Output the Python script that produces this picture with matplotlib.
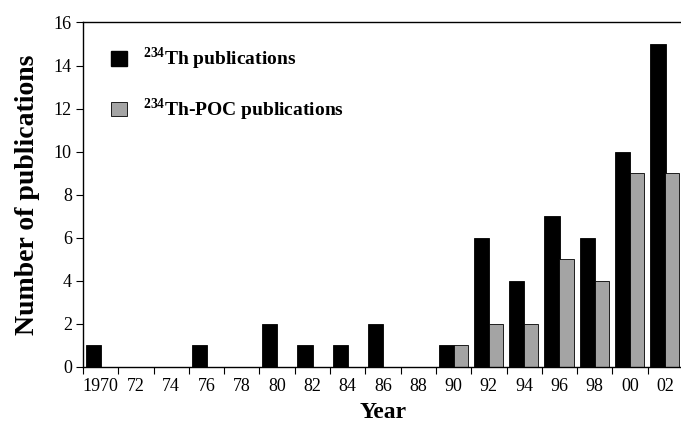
import matplotlib
matplotlib.use("Agg")
import matplotlib.pyplot as plt
from matplotlib.patches import Patch
import numpy as np

years = ["1970", "72", "74", "76", "78", "80", "82", "84", "86", "88", "90", "92", "94", "96", "98", "00", "02"]
th_pubs = [1, 0, 0, 1, 0, 2, 1, 1, 2, 0, 1, 6, 4, 7, 6, 10, 15]
th_poc_pubs = [0, 0, 0, 0, 0, 0, 0, 0, 0, 0, 1, 2, 2, 5, 4, 9, 9]

plt.rcParams['font.family'] = ['Liberation Serif', 'DejaVu Serif']
plt.rcParams['mathtext.fontset'] = 'custom'
plt.rcParams['mathtext.bf'] = 'Liberation Serif:bold'
plt.rcParams['mathtext.rm'] = 'Liberation Serif'

fig = plt.figure(figsize=(6.81, 4.26), dpi=100)
ax = fig.add_axes([0.1219, 0.1385, 0.881, 0.8087])

gray = '#a4a4a4'
x = np.arange(len(years))
ax.bar(x - 0.21, th_pubs, width=0.43, color='black', edgecolor='black', linewidth=0.6)
ax.bar(x + 0.20, th_poc_pubs, width=0.40, color=gray, edgecolor='black', linewidth=0.6)

ax.set_xlim(-0.5, len(years) - 0.5)
ax.set_ylim(0, 16)
ax.set_yticks(np.arange(0, 17, 2))
ax.set_xticks(x)
ax.set_xticklabels(years)
ax.set_xticks(np.arange(-0.5, len(years), 1.0), minor=True)
ax.tick_params(axis='x', which='major', length=0, labelsize=13, pad=8)
ax.tick_params(axis='x', which='minor', length=5, width=0.8, direction='out')
ax.tick_params(axis='y', length=5, width=0.8, direction='out', labelsize=13, pad=3)

ax.spines['right'].set_visible(False)
for s in ['left', 'bottom', 'top']:
    ax.spines[s].set_linewidth(1.0)

ax.set_xlabel('Year', fontsize=17, fontweight='bold', labelpad=5)
ax.set_ylabel('Number of publications', fontsize=20, fontweight='bold', labelpad=10)

handles = [Patch(facecolor='black', edgecolor='black'),
           Patch(facecolor=gray, edgecolor='black', linewidth=0.6)]
labels = [r'$^{\mathbf{234}}$Th publications', r'$^{\mathbf{234}}$Th-POC publications']
ax.legend(handles, labels, loc='upper left', bbox_to_anchor=(0.018, 0.985), frameon=False,
          prop={'weight': 'bold', 'size': 14}, handlelength=0.8, handleheight=0.8,
          handletextpad=0.85, labelspacing=1.25)

fig.savefig('out.png', dpi=100)
